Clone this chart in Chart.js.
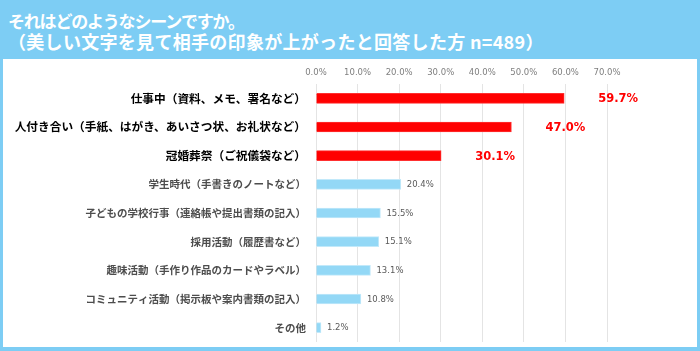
<!DOCTYPE html>
<html>
<head>
<meta charset="utf-8">
<script src="https://cdn.jsdelivr.net/npm/chart.js@4/dist/chart.umd.min.js"></script>
<style>
  html, body { margin: 0; padding: 0; }
  body { width: 700px; height: 351px; background: #7dcdf4; position: relative; overflow: hidden;
         font-family: "Noto Sans CJK JP", sans-serif; }
  .title { position: absolute; left: 8px; color: #fff; font-weight: bold; white-space: nowrap; }
  #t1 { top: 10px; font-size: 17px; line-height: 22px; letter-spacing: -1.2px; }
  #t2 { top: 30px; font-size: 18px; line-height: 22px; letter-spacing: 0.3px; }
  #panel { position: absolute; left: 3px; top: 59px; width: 694px; height: 288px; background: #fff; }
  #chart { position: absolute; left: 0; top: 0; }
</style>
</head>
<body>
<div class="title" id="t1">それはどのようなシーンですか。</div>
<div class="title" id="t2">（美しい文字を見て相手の印象が上がったと回答した方 n=489）</div>
<div id="panel"><canvas id="chart" width="694" height="288"></canvas></div>
<script>
// scenes where beautiful handwriting raised the impression (%)
const scenes = [
  '仕事中（資料、メモ、署名など）',
  '人付き合い（手紙、はがき、あいさつ状、お礼状など）',
  '冠婚葬祭（ご祝儀袋など）',
  '学生時代（手書きのノートなど）',
  '子どもの学校行事（連絡帳や提出書類の記入）',
  '採用活動（履歴書など）',
  '趣味活動（手作り作品のカードやラベル）',
  'コミュニティ活動（掲示板や案内書類の記入）',
  'その他'
];
const shares = [59.7, 47.0, 30.1, 20.4, 15.5, 15.1, 13.1, 10.8, 1.2];
const topCount = 3; // first three are highlighted in red

const RED = '#ff0000';
const BLUE = '#93d8f6';

const isTop = i => i < topCount;

// value labels at the end of each bar
const valueLabels = {
  id: 'valueLabels',
  afterDatasetsDraw(chart) {
    const ctx = chart.ctx;
    const meta = chart.getDatasetMeta(0);
    ctx.save();
    ctx.textBaseline = 'middle';
    ctx.textAlign = 'left';
    meta.data.forEach((bar, i) => {
      const txt = shares[i].toFixed(1) + '%';
      if (isTop(i)) {
        ctx.font = 'bold 11.5px "DejaVu Sans"';
        ctx.fillStyle = RED;
        ctx.fillText(txt, bar.x + 34, bar.y + 1);
      } else {
        ctx.font = '8.5px "DejaVu Sans"';
        ctx.fillStyle = '#595959';
        ctx.fillText(txt, bar.x + 6, bar.y + 0.5);
      }
    });
    ctx.restore();
  }
};

const ctx = document.getElementById('chart').getContext('2d');
new Chart(ctx, {
  type: 'bar',
  data: {
    labels: scenes,
    datasets: [{
      data: shares,
      backgroundColor: shares.map((v, i) => isTop(i) ? RED : BLUE),
      borderColor: shares.map((v, i) => isTop(i) ? '#ff3030' : '#c2e9fa'),
      borderWidth: 1,
      barThickness: 10
    }]
  },
  options: {
    indexAxis: 'y',
    responsive: false,
    animation: false,
    layout: { padding: { left: 0, top: 0, right: 90, bottom: 5 } },
    plugins: { legend: { display: false }, tooltip: { enabled: false } },
    scales: {
      x: {
        position: 'top',
        min: 0,
        max: 70,
        ticks: {
          stepSize: 10,
          padding: 6,
          color: '#7f7f7f',
          font: { family: 'DejaVu Sans', size: 8.5 },
          callback: v => v.toFixed(1) + '%'
        },
        grid: { color: '#e4e4e4', drawTicks: false },
        border: { display: false },
        afterFit: s => { s.height = 25; s.paddingLeft = 0; s.paddingRight = 0; }
      },
      y: {
        ticks: {
          padding: 10,
          color: c => isTop(c.index) ? '#000000' : '#4d4d4d',
          font: c => isTop(c.index)
            ? { family: 'Noto Sans CJK JP', size: 11.7, weight: 'bold' }
            : { family: 'Noto Sans CJK JP', size: 10.5, weight: 'bold' }
        },
        grid: { display: false, drawTicks: false },
        border: { display: false },
        afterFit: s => { s.width = 313; s.paddingTop = 0; s.paddingBottom = 0; }
      }
    }
  },
  plugins: [valueLabels]
});
</script>
</body>
</html>
